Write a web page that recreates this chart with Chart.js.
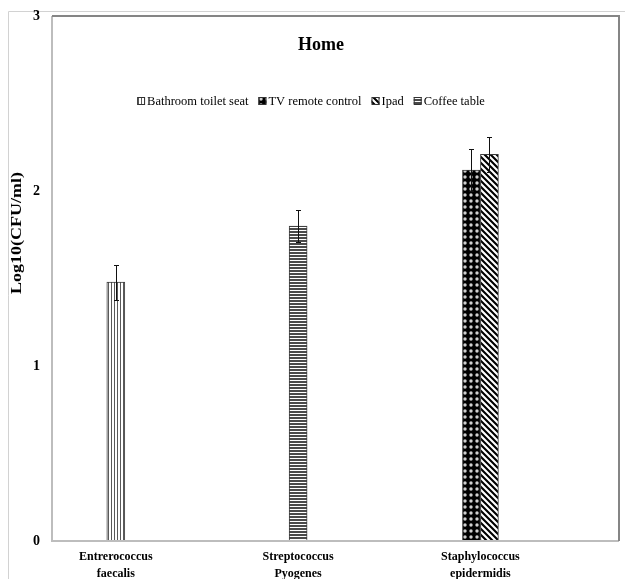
<!DOCTYPE html>
<html>
<head>
<meta charset="utf-8">
<script src="https://cdn.jsdelivr.net/npm/chart.js@4.4.1/dist/chart.umd.min.js"></script>
<style>
  html, body { margin: 0; padding: 0; background: #fff; }
  #wrap { width: 625px; height: 579px; }
</style>
</head>
<body>
<div id="wrap"><canvas id="c" width="625" height="579"></canvas></div>
<script>
// Bacterial counts per surface, Log10(CFU/ml)
const categories = ['Entrerococcus faecalis', 'Streptococcus Pyogenes', 'Staphylococcus epidermidis'];
const seriesNames = ['Bathroom toilet seat', 'TV remote control', 'Ipad', 'Coffee table'];

const bathroomToiletSeat = [1.48, null, null];
const tvRemoteControl    = [null, null, 2.12];
const ipad               = [null, null, 2.21];
const coffeeTable        = [null, 1.80, null];

// standard errors
const bathroomErr = [0.10, null, null];
const tvErr       = [null, null, 0.12];
const ipadErr     = [null, null, 0.10];
const coffeeErr   = [null, 0.09, null];

const yTicks = [0, 1, 2, 3];

const canvas = document.getElementById('c');
const ctx = canvas.getContext('2d');

function makePattern(w, h, draw) {
  const c = document.createElement('canvas');
  c.width = w; c.height = h;
  const g = c.getContext('2d');
  draw(g, w, h);
  return ctx.createPattern(c, 'repeat');
}

const vLines = makePattern(3, 1, (g) => {
  g.fillStyle = '#fff'; g.fillRect(0, 0, 3, 1);
  g.fillStyle = '#5a5a5a'; g.fillRect(0, 0, 1, 1);
});
const hLines = makePattern(1, 3, (g) => {
  g.fillStyle = '#fff'; g.fillRect(0, 0, 1, 3);
  g.fillStyle = '#4a4a4a'; g.fillRect(0, 0, 1, 2);
});
const dots = makePattern(6, 6, (g) => {
  g.fillStyle = '#000'; g.fillRect(0, 0, 6, 6);
  g.fillStyle = '#d0d0d0';
  g.beginPath(); g.arc(3, 3, 1.7, 0, Math.PI * 2); g.fill();
});
const diag = makePattern(6, 6, (g) => {
  g.fillStyle = '#fff'; g.fillRect(0, 0, 6, 6);
  g.strokeStyle = '#000'; g.lineWidth = 2.1;
  g.beginPath();
  g.moveTo(-1, -1); g.lineTo(7, 7);
  g.moveTo(-1, 5); g.lineTo(1, 7);
  g.moveTo(5, -1); g.lineTo(7, 1);
  g.stroke();
});

const seriesValues = [bathroomToiletSeat, tvRemoteControl, ipad, coffeeTable];
const seriesErrors = [bathroomErr, tvErr, ipadErr, coffeeErr];
const seriesFills = [vLines, dots, diag, hLines];

const datasets = seriesNames.map((name, s) => ({
  label: name,
  data: seriesValues[s].map((v, i) => ({ x: i, y: v })),
  errors: seriesErrors[s],
  backgroundColor: seriesFills[s],
  borderColor: '#3c3c3c',
  borderWidth: 1,
  barThickness: 18,
  skipNull: true
}));

const serif = "'Liberation Serif', 'Times New Roman', serif";
Chart.defaults.font.family = serif;
Chart.defaults.color = '#000';

// white page, outer chart border and the plot frame
const framePlugin = {
  id: 'frame',
  beforeDraw(chart) {
    const c = chart.ctx;
    c.save();
    c.fillStyle = '#fff';
    c.fillRect(0, 0, chart.width, chart.height);
    c.strokeStyle = '#d2d2d2';
    c.lineWidth = 1;
    c.beginPath();
    c.moveTo(8.5, chart.height); c.lineTo(8.5, 11.5); c.lineTo(chart.width, 11.5);
    c.stroke();
    c.restore();
  },
  afterDatasetsDraw(chart) {
    const a = chart.chartArea;
    const c = chart.ctx;
    c.save();
    c.lineWidth = 2;
    c.strokeStyle = '#bdbdbd';
    c.beginPath();
    c.moveTo(a.left, a.top); c.lineTo(a.left, a.bottom); c.lineTo(a.right, a.bottom);
    c.stroke();
    c.strokeStyle = '#858585';
    c.beginPath();
    c.moveTo(a.left, a.top); c.lineTo(a.right, a.top); c.lineTo(a.right, a.bottom);
    c.stroke();
    c.restore();
  }
};

// error bars with small caps
const errorBarPlugin = {
  id: 'errorBars',
  afterDatasetsDraw(chart) {
    const c = chart.ctx;
    const yScale = chart.scales.y;
    c.save();
    c.strokeStyle = '#111';
    c.lineWidth = 1;
    chart.data.datasets.forEach((ds, di) => {
      const meta = chart.getDatasetMeta(di);
      meta.data.forEach((bar, i) => {
        const v = ds.data[i].y;
        const e = ds.errors[i];
        if (v == null || e == null) return;
        const x = Math.round(bar.x) + 0.5;
        const yt = Math.round(yScale.getPixelForValue(v + e)) + 0.5;
        const yb = Math.round(yScale.getPixelForValue(v - e)) + 0.5;
        c.beginPath();
        c.moveTo(x, yt); c.lineTo(x, yb);
        c.moveTo(x - 2.5, yt); c.lineTo(x + 2.5, yt);
        c.moveTo(x - 2.5, yb); c.lineTo(x + 2.5, yb);
        c.stroke();
      });
    });
    c.restore();
  }
};

// title, legend and axis title drawn inside the frame
const labelsPlugin = {
  id: 'labels',
  afterDraw(chart) {
    const c = chart.ctx;
    const a = chart.chartArea;
    c.save();
    c.fillStyle = '#000';
    c.textBaseline = 'middle';

    c.font = "bold 18px " + serif;
    c.textAlign = 'center';
    c.fillText('Home', a.left + 269, 45);

    // y axis title
    c.save();
    c.translate(17, 233);
    c.rotate(-Math.PI / 2);
    c.scale(1, 0.8);
    c.font = "bold 18px " + serif;
    c.fillText('Log10(CFU/ml)', 0, 0);
    c.restore();

    // legend
    c.font = "12.5px " + serif;
    c.textAlign = 'left';
    const box = 8, gapText = 2, gapItem = 10;
    const widths = chart.data.datasets.map(ds => c.measureText(ds.label).width);
    let total = widths.reduce((s, w) => s + box + gapText + w, 0) + gapItem * (widths.length - 1);
    let x = 311 - total / 2;
    const y = 101;
    chart.data.datasets.forEach((ds, i) => {
      c.fillStyle = ds.backgroundColor;
      c.fillRect(x, y - 4, box, box);
      c.strokeStyle = '#333';
      c.lineWidth = 1;
      c.strokeRect(x + 0.5, y - 3.5, box - 1, box - 1);
      c.fillStyle = '#000';
      c.fillText(ds.label, x + box + gapText, y + 1);
      x += box + gapText + widths[i] + gapItem;
    });
    c.restore();
  }
};

new Chart(canvas, {
  type: 'bar',
  data: { datasets },
  options: {
    responsive: false,
    animation: false,
    layout: { padding: { left: 0, right: 6, top: 16, bottom: 0 } },
    plugins: {
      legend: { display: false },
      title: { display: false },
      tooltip: { enabled: false }
    },
    scales: {
      x: {
        type: 'linear',
        min: -0.35,
        max: 2.76,
        offset: false,
        grid: { display: false, drawTicks: false },
        border: { display: false },
        afterBuildTicks: (scale) => { scale.ticks = categories.map((_, i) => ({ value: i })); },
        afterFit: (scale) => { scale.height = 38; scale.paddingLeft = 0; scale.paddingRight = 0; },
        ticks: {
          autoSkip: false,
          maxRotation: 0,
          padding: 8,
          font: { size: 12, weight: 'bold', lineHeight: 1.4 },
          color: '#000',
          callback: (v) => categories[v] ? categories[v].split(' ') : ''
        }
      },
      y: {
        min: 0,
        max: 3,
        grid: { display: false, drawTicks: false },
        border: { display: false },
        afterBuildTicks: (scale) => { scale.ticks = yTicks.map(v => ({ value: v })); },
        afterFit: (scale) => { scale.width = 52; scale.paddingTop = 0; scale.paddingBottom = 0; },
        ticks: {
          padding: 12,
          font: { size: 14, weight: 'bold' },
          color: '#000'
        }
      }
    }
  },
  plugins: [framePlugin, errorBarPlugin, labelsPlugin]
});
</script>
</body>
</html>
